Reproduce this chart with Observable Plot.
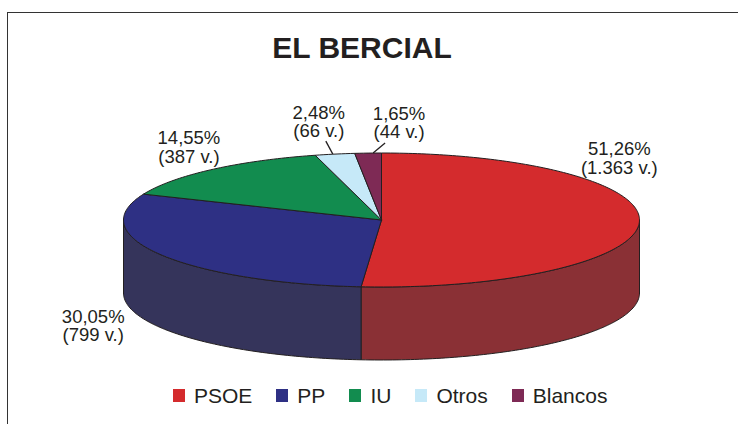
<!DOCTYPE html>
<html><head><meta charset="utf-8">
<script src="https://cdn.jsdelivr.net/npm/d3@7"></script>
<script src="https://cdn.jsdelivr.net/npm/@observablehq/plot@0.6"></script>
<style>
html,body{margin:0;padding:0;background:#fff;}
#wrap{position:relative;width:738px;height:424px;overflow:hidden;font-family:"Liberation Sans",Arial,sans-serif;}
#frame{position:absolute;left:7px;top:11.5px;width:800px;height:500px;border-top:1.5px solid #333;border-left:1.5px solid #333;}
#title{position:relative;height:80px;box-sizing:border-box;padding-top:33px;width:724px;text-align:center;font-weight:bold;font-size:30px;line-height:30px;color:#231f20;}
#chart svg{display:block;}
#legend{padding-left:173px;padding-top:9px;}
div.leg-swatches .leg-swatch{margin-right:24px;}
div.leg-swatches .leg-swatch > svg{margin-right:9px;}
</style></head><body>
<div id="wrap"><div id="frame"></div><div id="title"></div><div id="chart"></div><div id="legend"></div></div>
<script>
const title = "EL BERCIAL";
const parties = ["PSOE", "PP", "IU", "Otros", "Blancos"];
const votes = [1363, 799, 387, 66, 44];
const topColors = ["#d42b2d", "#2e3084", "#128c4f", "#c6e9f8", "#7e2a55"];
const sideColors = ["#8a3035", "#35345b", "#0d5e35", "#8fb0bd", "#561d3a"];
// label nudges (px) from the rim point at each slice's mid-angle
const labelDx = [-20, -68, -23, -16, 31];
const labelDy = [-64, 71, -22, -32, -30];
// leader lines (only small slices): start / end nudges from rim point
const leaderParties = ["Otros", "Blancos"];
const leaderStart = [[-9, -13], [17, -10]];
const leaderEnd = [[-2, 0], [5, 0]];

// geometry (SVG px)
const W = 738, H = 290;
const cx = 381, cy = 139.5, rx = 258, ry = 67, depth = 73;

const total = d3.sum(votes);
const fmtPct = v => (v * 100).toFixed(2).replace(".", ",") + "%";
const fmtVotes = v => d3.format(",")(v).replace(/,/g, ".");

let acc = 0;
const slices = parties.map((p, i) => {
  const a0 = acc / total * 360;
  acc += votes[i];
  const a1 = acc / total * 360;
  return {party: p, i, a0, a1, mid: (a0 + a1) / 2};
});
const rad = a => a * Math.PI / 180;
const px = a => cx + rx * Math.sin(rad(a));
const py = a => cy - ry * Math.cos(rad(a));
function arc(a0, a1) {
  const n = Math.max(2, Math.ceil(Math.abs(a1 - a0)));
  return d3.range(n + 1).map(k => a0 + (a1 - a0) * k / n);
}

const sideRows = [];
slices.forEach(s => {
  const s0 = Math.max(s.a0, 90), s1 = Math.min(s.a1, 270);
  if (s1 <= s0) return;
  const top = arc(s0, s1).map(a => ({x: px(a), y: py(a)}));
  const bot = arc(s1, s0).map(a => ({x: px(a), y: py(a) + depth}));
  [...top, ...bot, top[0]].forEach(p => sideRows.push({id: "side-" + s.party, fill: sideColors[s.i], ...p}));
});
const topRows = [];
slices.forEach(s => {
  const pts = [{x: cx, y: cy}, ...arc(s.a0, s.a1).map(a => ({x: px(a), y: py(a)})), {x: cx, y: cy}];
  pts.forEach(p => topRows.push({id: "top-" + s.party, fill: topColors[s.i], ...p}));
});
const labels = slices.map(s => ({
  x: px(s.mid) + labelDx[s.i],
  y: py(s.mid) + labelDy[s.i],
  text: fmtPct(votes[s.i] / total) + "\n(" + fmtVotes(votes[s.i]) + " v.)"
}));
const leaders = leaderParties.map((p, k) => {
  const s = slices[parties.indexOf(p)];
  return {x1: px(s.mid) + leaderStart[k][0], y1: py(s.mid) + leaderStart[k][1],
          x2: px(s.mid) + leaderEnd[k][0], y2: py(s.mid) + leaderEnd[k][1]};
});

document.getElementById("title").textContent = title;

const chart = Plot.plot({
  width: W, height: H, margin: 0,
  x: {domain: [0, W], range: [0, W], axis: null},
  y: {domain: [0, H], range: [0, H], axis: null},
  color: {type: "identity"},
  style: {background: "transparent", overflow: "visible"},
  marks: [
    Plot.line(sideRows, {x: "x", y: "y", z: "id", fill: "fill", stroke: "#231f20", strokeWidth: 1, strokeLinejoin: "round"}),
    Plot.line(topRows, {x: "x", y: "y", z: "id", fill: "fill", stroke: "#231f20", strokeWidth: 1, strokeLinejoin: "round"}),
    Plot.link(leaders, {x1: "x1", y1: "y1", x2: "x2", y2: "y2", stroke: "#231f20", strokeWidth: 1.3}),
    Plot.text(labels, {x: "x", y: "y", text: "text", fontSize: 18.5, lineHeight: 1, fill: "#231f20", fontFamily: "Liberation Sans, Arial, sans-serif"})
  ]
});
document.getElementById("chart").appendChild(chart);

const legend = Plot.legend({
  color: {domain: parties, range: topColors},
  className: "leg",
  swatchWidth: 12, swatchHeight: 13,
  style: {fontSize: "21px", fontFamily: "Liberation Sans, Arial, sans-serif", color: "#231f20", margin: 0}
});
document.getElementById("legend").appendChild(legend);
</script>
</body></html>
